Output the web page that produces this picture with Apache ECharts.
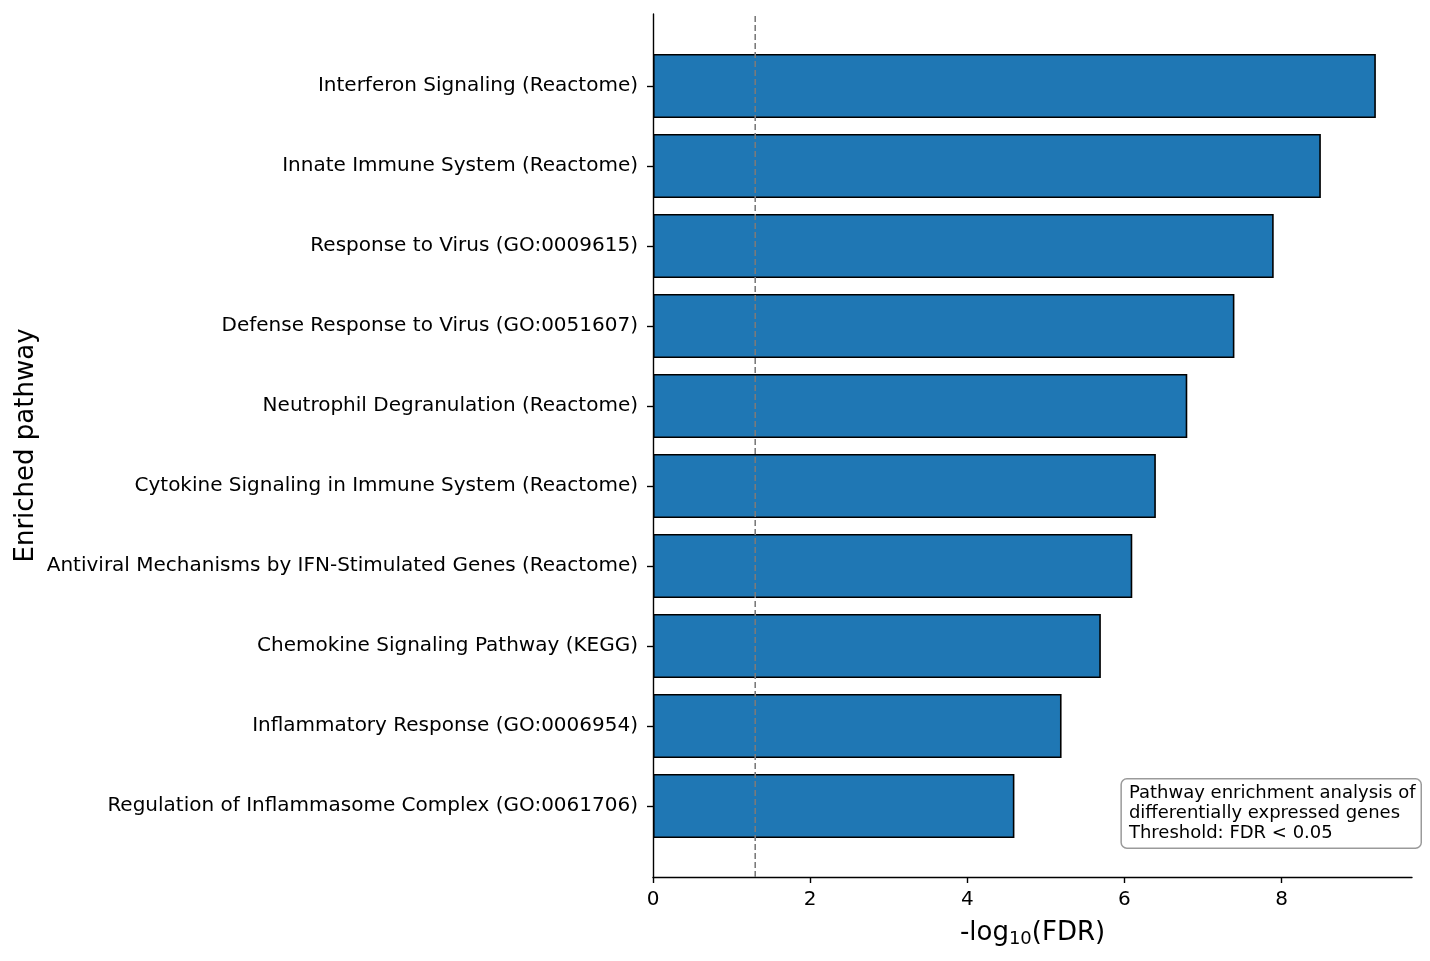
<!DOCTYPE html>
<html>
<head>
<meta charset="UTF-8">
<title>Enriched pathways</title>
<script src="https://cdn.jsdelivr.net/npm/echarts@6/dist/echarts.min.js"></script>
<style>
  html, body { margin: 0; padding: 0; background: #fff; }
  #main { width: 1430px; height: 961px; }
</style>
</head>
<body>
<div id="main"></div>
<script>
    var pathways = [
        'Interferon Signaling (Reactome)',
        'Innate Immune System (Reactome)',
        'Response to Virus (GO:0009615)',
        'Defense Response to Virus (GO:0051607)',
        'Neutrophil Degranulation (Reactome)',
        'Cytokine Signaling in Immune System (Reactome)',
        'Antiviral Mechanisms by IFN-Stimulated Genes (Reactome)',
        'Chemokine Signaling Pathway (KEGG)',
        'Inflammatory Response (GO:0006954)',
        'Regulation of Inflammasome Complex (GO:0061706)'
    ];
    var negLogFdr = [9.2, 8.5, 7.9, 7.4, 6.8, 6.4, 6.1, 5.7, 5.2, 4.6];
    var xTicks = [0, 2, 4, 6, 8];
    var xMax = 9.66;
    var threshold = 1.30103; // -log10(0.05)
    var noteLines = [
        'Pathway enrichment analysis of',
        'differentially expressed genes',
        'Threshold: FDR < 0.05'
    ];

    var font = 'DejaVu Sans';
    var chart = echarts.init(document.getElementById('main'));

    var option = {
        animation: false,
        backgroundColor: '#ffffff',
        textStyle: { fontFamily: font },
        grid: [
            { left: 653, right: 18, top: 14, bottom: 84 },
            { left: 653, right: 18, top: 46, height: 800 }
        ],
        xAxis: [
            {
                gridIndex: 0,
                type: 'value',
                min: 0,
                max: xMax,
                name: '-log{sub|10}(FDR)',
                nameLocation: 'middle',
                nameGap: 41,
                nameTextStyle: {
                    color: '#000', fontSize: 26, fontFamily: font,
                    rich: { sub: { fontSize: 18, verticalAlign: 'bottom', padding: [12, 0, 0, 0], fontFamily: font, color: '#000' } }
                },
                axisLine: { show: true, lineStyle: { color: '#000', width: 1.4 } },
                axisTick: { show: true, length: 6, lineStyle: { color: '#000', width: 1.4 }, customValues: xTicks },
                axisLabel: { color: '#000', fontSize: 20, fontFamily: font, margin: 13, customValues: xTicks },
                splitLine: { show: false }
            },
            {
                gridIndex: 1,
                type: 'value',
                min: 0,
                max: xMax,
                show: false
            }
        ],
        yAxis: [
            {
                gridIndex: 0,
                type: 'value',
                min: 0,
                max: 1,
                name: 'Enriched pathway',
                nameLocation: 'middle',
                nameGap: 614,
                nameTextStyle: { color: '#000', fontSize: 26, fontFamily: font },
                axisLine: { show: true, lineStyle: { color: '#000', width: 1.4 } },
                axisTick: { show: false },
                axisLabel: { show: false },
                splitLine: { show: false }
            },
            {
                gridIndex: 1,
                type: 'category',
                inverse: true,
                data: pathways,
                axisLine: { show: false },
                axisTick: { show: true, alignWithLabel: true, length: 6, lineStyle: { color: '#000', width: 1.4 } },
                axisLabel: { color: '#000', fontSize: 20, fontFamily: font, margin: 15, interval: 0, padding: [4, 0, 0, 0] },
                splitLine: { show: false }
            }
        ],
        series: [
            {
                type: 'bar',
                xAxisIndex: 1,
                yAxisIndex: 1,
                data: negLogFdr,
                barCategoryGap: '20%',
                itemStyle: { color: '#1f77b4', borderColor: '#000', borderWidth: 1.6 },
                z: 2
            },
            {
                type: 'line',
                xAxisIndex: 0,
                yAxisIndex: 0,
                data: [[threshold, 0], [threshold, 1]],
                symbol: 'none',
                lineStyle: { color: '#7a7a7a', width: 1.6, type: [6, 3] },
                z: 5
            }
        ],
        graphic: [
            {
                type: 'text',
                right: 8,
                bottom: 112,
                z: 10,
                style: {
                    text: noteLines.join('\n'),
                    font: '18px "DejaVu Sans"',
                    fill: '#000',
                    lineHeight: 20,
                    backgroundColor: '#fff',
                    borderColor: '#9a9a9a',
                    borderWidth: 1.5,
                    borderRadius: 5,
                    padding: [4, 5, 4, 7]
                }
            }
        ]
    };
    chart.setOption(option);
</script>
</body>
</html>
